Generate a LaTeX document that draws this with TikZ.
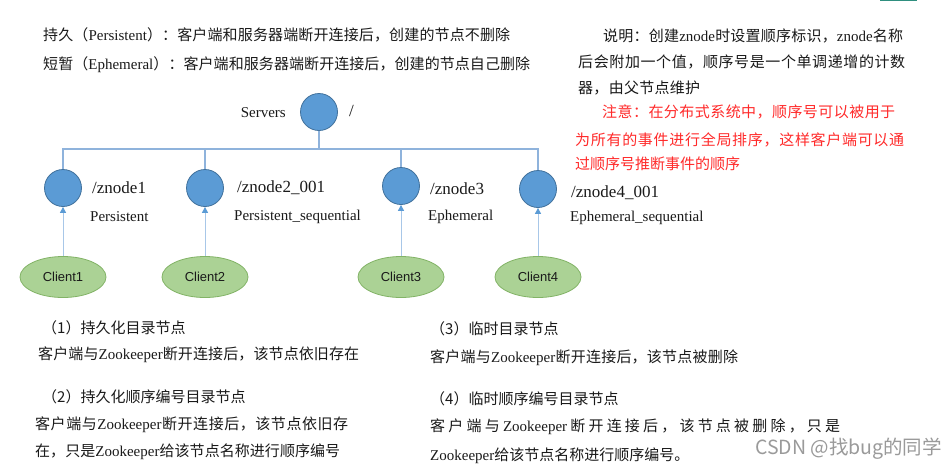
\documentclass[tikz,border=0pt]{standalone}
\usepackage{fontspec}
\setmainfont{Liberation Serif}
\setsansfont{Liberation Sans}
\newfontfamily\cjk{Noto Sans CJK SC}
\usetikzlibrary{shapes.geometric,arrows.meta}
\definecolor{nodeblue}{HTML}{5B9BD5}
\definecolor{nodeedge}{HTML}{41719C}
\definecolor{treeline}{HTML}{8FB3DC}
\definecolor{arrline}{HTML}{A8C7E8}
\definecolor{cfill}{HTML}{ABD295}
\definecolor{cedge}{HTML}{82B366}
\definecolor{txt}{HTML}{1A1A1A}
\definecolor{redtxt}{HTML}{FF2A2A}
\definecolor{wmgray}{HTML}{9A9A9A}
\definecolor{tealline}{HTML}{2F8F7F}
\makeatletter
\newcommand\sprd[2]{\hbox to #1{\sprd@loop#2\sprd@end\unskip}}
\def\sprd@end{\sprd@end}
\def\sprd@loop#1{\ifx\sprd@end#1\else{#1}\hskip 0pt plus 1fil\expandafter\sprd@loop\fi}
\makeatother
\begin{document}
\begin{tikzpicture}[x=1pt,y=-1pt,
  znode/.style={circle,fill=nodeblue,draw=nodeedge,line width=0.8pt,minimum size=37pt,inner sep=0pt},
  client/.style={ellipse,fill=cfill,draw=cedge,line width=0.8pt,minimum width=86pt,minimum height=41pt,inner sep=0pt,font=\sffamily\fontsize{13}{13}\selectfont,text=txt},
  lbl/.style={anchor=west,inner sep=0pt,font=\fontsize{15}{15}\selectfont,text=txt},
  biglbl/.style={anchor=west,inner sep=0pt,font=\fontsize{17}{17}\selectfont,text=txt},
  cn/.style={anchor=west,inner sep=0pt,font=\cjk\fontsize{15}{15}\selectfont,text=txt},
  cnred/.style={cn,text=redtxt},
  tree/.style={draw=treeline,line width=1.2pt},
  arr/.style={draw=arrline,line width=1pt,-{Triangle[length=6pt,width=6pt,color=nodeblue]}}
]
\useasboundingbox[fill=white] (0,0) rectangle (951,467);
\draw[tealline,line width=1pt] (880,0.5) -- (917,0.5);

% top-left definitions
\node[cn] (t1) at (43,35) {\sprd{467pt}{持久（{\rmfamily Persistent}）：客户端和服务器端断开连接后，创建的节点不删除}};
\node[cn] (t2) at (43,65) {\sprd{487pt}{短暂（{\rmfamily Ephemeral}）：客户端和服务器端断开连接后，创建的节点自己删除}};

% top-right explanation
\node[cn] (r1) at (603,36) {\sprd{300pt}{说明：创建{\rmfamily znode}时设置顺序标识，{\rmfamily znode}名称}};
\node[cn] (r2) at (578,62) {\sprd{327pt}{后会附加一个值，顺序号是一个单调递增的计数}};
\node[cn] (r3) at (578,88) {\sprd{122pt}{器，由父节点维护}};
\node[cnred] (r4) at (602,112) {\sprd{293pt}{注意：在分布式系统中，顺序号可以被用于}};
\node[cnred] (r5) at (575,140) {\sprd{329pt}{为所有的事件进行全局排序，这样客户端可以通}};
\node[cnred] (r6) at (575,164) {\sprd{165pt}{过顺序号推断事件的顺序}};

% tree
\node[znode] (root) at (319,112) {};
\node[lbl,anchor=east] (srv) at (286,113) {Servers};
\node[biglbl] (slash) at (349,111) {/};
\coordinate (bar) at (319,149);

\node[znode] (c1) at (63,188) {};
\node[znode] (c2) at (205,188) {};
\node[znode] (c3) at (401,186) {};
\node[znode] (c4) at (538,189) {};

\draw[tree] (root) -- (bar);
\draw[tree] (bar) -| (c1.north);
\draw[tree] (bar) -| (c2.north);
\draw[tree] (bar) -| (c3.north);
\draw[tree] (bar) -| (c4.north);

\node[biglbl] (n1) at (92,188) {/znode1};
\node[lbl] (p1) at (90,217) {Persistent};
\node[biglbl] (n2) at (237,188) {/znode2\_001};
\node[lbl] (p2) at (234,217) {Persistent\_sequential};
\node[biglbl] (n3) at (430,189) {/znode3};
\node[lbl] (p3) at (428,217) {Ephemeral};
\node[biglbl] (n4) at (571,193) {/znode4\_001};
\node[lbl] (p4) at (570,218) {Ephemeral\_sequential};

% clients
\node[client] (k1) at (63,277) {Client1};
\node[client] (k2) at (205,277) {Client2};
\node[client] (k3) at (401,277) {Client3};
\node[client] (k4) at (538,277) {Client4};
\draw[arr] (k1) -- (c1);
\draw[arr] (k2) -- (c2);
\draw[arr] (k3) -- (c3);
\draw[arr] (k4) -- (c4);

% bottom descriptions
\node[cn] (b1) at (42,328) {（1）持久化目录节点};
\node[cn] (b2) at (38,355) {\sprd{321pt}{客户端与{\rmfamily Zookeeper}断开连接后，该节点依旧存在}};
\node[cn] (b3) at (42,397) {\sprd{195pt}{（2）持久化顺序编号目录节点}};
\node[cn] (b4) at (35,425) {\sprd{313pt}{客户端与{\rmfamily Zookeeper}断开连接后，该节点依旧存}};
\node[cn] (b5) at (35,452) {\sprd{305pt}{在，只是{\rmfamily Zookeeper}给该节点名称进行顺序编号}};

\node[cn] (d1) at (430,329) {（3）临时目录节点};
\node[cn] (d2) at (430,358) {\sprd{308pt}{客户端与{\rmfamily Zookeeper}断开连接后，该节点被删除}};
\node[cn] (d3) at (430,399) {\sprd{187pt}{（4）临时顺序编号目录节点}};
\node[cn] (d4) at (430,427) {\sprd{410pt}{客户端与{\rmfamily Zookeeper}断开连接后，该节点被删除，只是}};
\node[cn] (d5) at (430,456) {\sprd{254pt}{{\rmfamily Zookeeper}给该节点名称进行顺序编号。}};

% watermark
\node[anchor=west,inner sep=0pt,font=\cjk\fontsize{19.5}{19.5}\selectfont,text=wmgray] (wm) at (755,449) {CSDN @找bug的同学};
\end{tikzpicture}
\end{document}
